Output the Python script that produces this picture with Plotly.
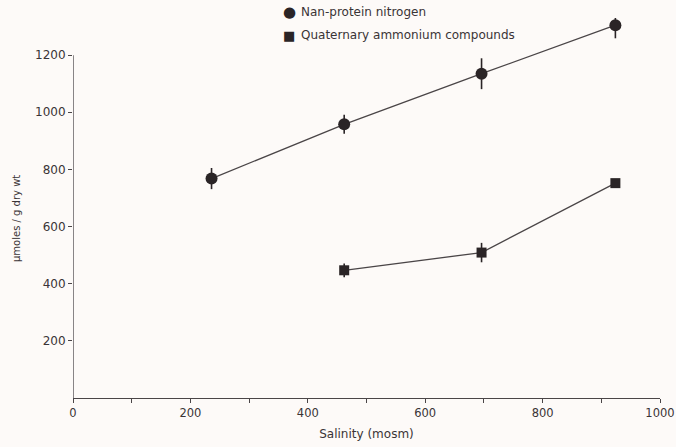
import plotly.graph_objects as go

salinity_npn = [236, 462, 696, 924]
npn_values = [768, 958, 1135, 1305]
npn_err = [37, 33, 54, 46]

salinity_qac = [462, 696, 924]
qac_values = [447, 509, 752]
qac_err = [24, 34, 8]

x_ticks = [0, 200, 400, 600, 800, 1000]
y_ticks = [200, 400, 600, 800, 1000, 1200]

series_names = ["Nan-protein nitrogen", "Quaternary ammonium compounds"]

ink = "#2a2426"
line_c = "#4a4547"
txt = "#3a3436"
bg = "#fdfaf8"
font = "'DejaVu Sans', sans-serif"

L, R, T, B = 73, 16, 18, 49
W, H = 676, 447
pw, ph = W - L - R, H - T - B


def px(xp):
    return (xp - L) / pw


def py(yp):
    return (H - B - yp) / ph


fig = go.Figure()

fig.add_trace(go.Scatter(
    x=salinity_npn, y=npn_values, mode="lines+markers", name=series_names[0],
    line=dict(color=line_c, width=1.3),
    marker=dict(symbol="circle", size=12, color=ink),
    error_y=dict(type="data", array=npn_err, color=ink, thickness=1.6, width=0),
    cliponaxis=False, showlegend=False))

fig.add_trace(go.Scatter(
    x=salinity_qac, y=qac_values, mode="lines+markers", name=series_names[1],
    line=dict(color=line_c, width=1.3),
    marker=dict(symbol="square", size=10, color=ink),
    error_y=dict(type="data", array=qac_err, color=ink, thickness=1.6, width=0),
    cliponaxis=False, showlegend=False))

# y axis line from 0 to 1200
fig.add_shape(type="line", xref="x", yref="y", x0=0, x1=0, y0=0, y1=1200,
              line=dict(color=line_c, width=1.3))


def ann(text, xp, yp, **kw):
    d = dict(text=text, x=px(xp), y=py(yp), xref="paper", yref="paper", showarrow=False,
             xanchor="center", yanchor="middle")
    d.update(kw)
    return d


annotations = [
    ann("µmoles / g dry wt", 16, 218, textangle=-90, font=dict(size=10, color=txt)),
    # manual legend
    ann("●", 289, 12, font=dict(size=15, color=ink)),
    ann("■", 289, 35, font=dict(size=13, color=ink)),
    ann(series_names[0], 299, 12, xanchor="left", font=dict(size=12, color=txt)),
    ann(series_names[1], 299, 35, xanchor="left", font=dict(size=12, color=txt)),
]

fig.update_layout(
    width=W, height=H,
    margin=dict(l=L, r=R, t=T, b=B, autoexpand=False),
    paper_bgcolor=bg, plot_bgcolor=bg,
    font=dict(family=font, size=12, color=txt),
    showlegend=False,
    xaxis=dict(range=[0, 1000], tickvals=x_ticks, tickfont=dict(size=11.5),
               ticklabeloverflow="allow",
               showline=True, linecolor=line_c, linewidth=1.3,
               ticks="outside", ticklen=4, tickcolor=line_c, showgrid=False, zeroline=False,
               minor=dict(dtick=100, tick0=0, ticks="outside", ticklen=4, tickcolor=line_c),
               title=dict(text="Salinity (mosm)", standoff=10, font=dict(size=12))),
    yaxis=dict(range=[0, 1330], tickvals=y_ticks, showline=False,
               ticks="outside", ticklen=4, tickcolor=line_c, showgrid=False, zeroline=False),
    annotations=annotations,
)

fig.write_html("out.html", config={"displayModeBar": False}, post_script=(
    "document.body.style.margin='0';document.body.style.overflow='hidden';"
    "document.body.style.background='%s';" % bg))
